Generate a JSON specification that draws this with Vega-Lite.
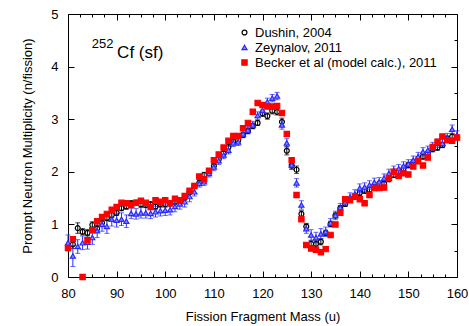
{
"$schema": "https://vega.github.io/schema/vega-lite/v6.json",
"width": 389, "height": 263,
"autosize": {"type": "none"},
"padding": {"left": 68, "top": 14, "right": 12, "bottom": 49},
"background": "white",
"config": {
 "view": {"stroke": "#000", "strokeWidth": 1},
 "font": "Liberation Sans",
 "axis": {"grid": false, "domain": false, "tickColor": "#000", "labelColor": "#000", "titleColor": "#000", "labelFontSize": 13, "titleFontSize": 13, "titleFontWeight": "normal", "labelFont": "Liberation Sans", "titleFont": "Liberation Sans"},
 "legend": {"labelFont": "Liberation Sans", "labelFontSize": 13, "labelColor": "#000", "labelLimit": 0}
},
"datasets": {
"pts": [
{"s":"Dushin, 2004","m":81,"v":0.62,"e":0.08},
{"s":"Dushin, 2004","m":82,"v":0.93,"e":0.1},
{"s":"Dushin, 2004","m":83,"v":0.86,"e":0.06},
{"s":"Dushin, 2004","m":84,"v":0.84,"e":0.06},
{"s":"Dushin, 2004","m":85,"v":0.99,"e":0.06},
{"s":"Dushin, 2004","m":86,"v":0.92,"e":0.06},
{"s":"Dushin, 2004","m":87,"v":1.03,"e":0.05},
{"s":"Dushin, 2004","m":88,"v":1.12,"e":0.05},
{"s":"Dushin, 2004","m":89,"v":1.18,"e":0.05},
{"s":"Dushin, 2004","m":90,"v":1.22,"e":0.05},
{"s":"Dushin, 2004","m":91,"v":1.31,"e":0.05},
{"s":"Dushin, 2004","m":92,"v":1.34,"e":0.05},
{"s":"Dushin, 2004","m":93,"v":1.40,"e":0.05},
{"s":"Dushin, 2004","m":94,"v":1.41,"e":0.05},
{"s":"Dushin, 2004","m":95,"v":1.38,"e":0.05},
{"s":"Dushin, 2004","m":96,"v":1.37,"e":0.05},
{"s":"Dushin, 2004","m":97,"v":1.38,"e":0.05},
{"s":"Dushin, 2004","m":98,"v":1.34,"e":0.05},
{"s":"Dushin, 2004","m":99,"v":1.38,"e":0.05},
{"s":"Dushin, 2004","m":100,"v":1.38,"e":0.05},
{"s":"Dushin, 2004","m":101,"v":1.40,"e":0.05},
{"s":"Dushin, 2004","m":102,"v":1.43,"e":0.05},
{"s":"Dushin, 2004","m":103,"v":1.45,"e":0.05},
{"s":"Dushin, 2004","m":104,"v":1.51,"e":0.05},
{"s":"Dushin, 2004","m":105,"v":1.62,"e":0.05},
{"s":"Dushin, 2004","m":106,"v":1.73,"e":0.05},
{"s":"Dushin, 2004","m":107,"v":1.79,"e":0.05},
{"s":"Dushin, 2004","m":108,"v":1.94,"e":0.05},
{"s":"Dushin, 2004","m":109,"v":2.00,"e":0.05},
{"s":"Dushin, 2004","m":110,"v":2.11,"e":0.05},
{"s":"Dushin, 2004","m":111,"v":2.24,"e":0.05},
{"s":"Dushin, 2004","m":112,"v":2.35,"e":0.05},
{"s":"Dushin, 2004","m":113,"v":2.47,"e":0.05},
{"s":"Dushin, 2004","m":114,"v":2.57,"e":0.05},
{"s":"Dushin, 2004","m":115,"v":2.60,"e":0.05},
{"s":"Dushin, 2004","m":116,"v":2.70,"e":0.05},
{"s":"Dushin, 2004","m":117,"v":2.78,"e":0.05},
{"s":"Dushin, 2004","m":118,"v":2.87,"e":0.05},
{"s":"Dushin, 2004","m":119,"v":2.93,"e":0.05},
{"s":"Dushin, 2004","m":120,"v":3.11,"e":0.06},
{"s":"Dushin, 2004","m":121,"v":3.06,"e":0.06},
{"s":"Dushin, 2004","m":122,"v":3.16,"e":0.06},
{"s":"Dushin, 2004","m":123,"v":3.14,"e":0.06},
{"s":"Dushin, 2004","m":124,"v":2.95,"e":0.07},
{"s":"Dushin, 2004","m":125,"v":2.40,"e":0.08},
{"s":"Dushin, 2004","m":126,"v":2.12,"e":0.07},
{"s":"Dushin, 2004","m":127,"v":2.04,"e":0.07},
{"s":"Dushin, 2004","m":128,"v":1.20,"e":0.06},
{"s":"Dushin, 2004","m":129,"v":0.96,"e":0.06},
{"s":"Dushin, 2004","m":130,"v":0.63,"e":0.06},
{"s":"Dushin, 2004","m":131,"v":0.63,"e":0.06},
{"s":"Dushin, 2004","m":132,"v":0.67,"e":0.06},
{"s":"Dushin, 2004","m":133,"v":0.84,"e":0.05},
{"s":"Dushin, 2004","m":134,"v":1.01,"e":0.05},
{"s":"Dushin, 2004","m":135,"v":1.17,"e":0.05},
{"s":"Dushin, 2004","m":136,"v":1.31,"e":0.05},
{"s":"Dushin, 2004","m":137,"v":1.39,"e":0.05},
{"s":"Dushin, 2004","m":138,"v":1.47,"e":0.05},
{"s":"Dushin, 2004","m":139,"v":1.53,"e":0.05},
{"s":"Dushin, 2004","m":140,"v":1.60,"e":0.05},
{"s":"Dushin, 2004","m":141,"v":1.64,"e":0.05},
{"s":"Dushin, 2004","m":142,"v":1.66,"e":0.05},
{"s":"Dushin, 2004","m":143,"v":1.72,"e":0.05},
{"s":"Dushin, 2004","m":144,"v":1.77,"e":0.05},
{"s":"Dushin, 2004","m":145,"v":1.78,"e":0.05},
{"s":"Dushin, 2004","m":146,"v":1.86,"e":0.05},
{"s":"Dushin, 2004","m":147,"v":1.94,"e":0.05},
{"s":"Dushin, 2004","m":148,"v":2.00,"e":0.05},
{"s":"Dushin, 2004","m":149,"v":2.06,"e":0.05},
{"s":"Dushin, 2004","m":150,"v":2.13,"e":0.05},
{"s":"Dushin, 2004","m":151,"v":2.18,"e":0.05},
{"s":"Dushin, 2004","m":152,"v":2.24,"e":0.05},
{"s":"Dushin, 2004","m":153,"v":2.29,"e":0.05},
{"s":"Dushin, 2004","m":154,"v":2.34,"e":0.05},
{"s":"Dushin, 2004","m":155,"v":2.43,"e":0.05},
{"s":"Dushin, 2004","m":156,"v":2.46,"e":0.05},
{"s":"Dushin, 2004","m":157,"v":2.51,"e":0.05},
{"s":"Dushin, 2004","m":158,"v":2.63,"e":0.05},
{"s":"Dushin, 2004","m":159,"v":2.67,"e":0.05},
{"s":"Zeynalov, 2011","m":80,"v":0.65,"e":0.15},
{"s":"Zeynalov, 2011","m":81,"v":0.40,"e":0.2},
{"s":"Zeynalov, 2011","m":82,"v":0.58,"e":0.13},
{"s":"Zeynalov, 2011","m":83,"v":0.65,"e":0.13},
{"s":"Zeynalov, 2011","m":84,"v":0.66,"e":0.13},
{"s":"Zeynalov, 2011","m":85,"v":0.75,"e":0.13},
{"s":"Zeynalov, 2011","m":86,"v":0.88,"e":0.13},
{"s":"Zeynalov, 2011","m":87,"v":1.00,"e":0.13},
{"s":"Zeynalov, 2011","m":88,"v":0.96,"e":0.13},
{"s":"Zeynalov, 2011","m":89,"v":1.10,"e":0.13},
{"s":"Zeynalov, 2011","m":90,"v":1.08,"e":0.13},
{"s":"Zeynalov, 2011","m":91,"v":1.10,"e":0.12},
{"s":"Zeynalov, 2011","m":92,"v":1.06,"e":0.12},
{"s":"Zeynalov, 2011","m":93,"v":1.21,"e":0.1},
{"s":"Zeynalov, 2011","m":94,"v":1.20,"e":0.1},
{"s":"Zeynalov, 2011","m":95,"v":1.22,"e":0.1},
{"s":"Zeynalov, 2011","m":96,"v":1.22,"e":0.1},
{"s":"Zeynalov, 2011","m":97,"v":1.21,"e":0.1},
{"s":"Zeynalov, 2011","m":98,"v":1.24,"e":0.1},
{"s":"Zeynalov, 2011","m":99,"v":1.26,"e":0.1},
{"s":"Zeynalov, 2011","m":100,"v":1.27,"e":0.1},
{"s":"Zeynalov, 2011","m":101,"v":1.28,"e":0.1},
{"s":"Zeynalov, 2011","m":102,"v":1.34,"e":0.1},
{"s":"Zeynalov, 2011","m":103,"v":1.39,"e":0.1},
{"s":"Zeynalov, 2011","m":104,"v":1.43,"e":0.1},
{"s":"Zeynalov, 2011","m":105,"v":1.53,"e":0.1},
{"s":"Zeynalov, 2011","m":106,"v":1.62,"e":0.08},
{"s":"Zeynalov, 2011","m":107,"v":1.78,"e":0.07},
{"s":"Zeynalov, 2011","m":108,"v":1.81,"e":0.07},
{"s":"Zeynalov, 2011","m":109,"v":1.97,"e":0.07},
{"s":"Zeynalov, 2011","m":110,"v":2.09,"e":0.07},
{"s":"Zeynalov, 2011","m":111,"v":2.21,"e":0.07},
{"s":"Zeynalov, 2011","m":112,"v":2.32,"e":0.07},
{"s":"Zeynalov, 2011","m":113,"v":2.41,"e":0.07},
{"s":"Zeynalov, 2011","m":114,"v":2.55,"e":0.07},
{"s":"Zeynalov, 2011","m":115,"v":2.57,"e":0.07},
{"s":"Zeynalov, 2011","m":116,"v":2.72,"e":0.07},
{"s":"Zeynalov, 2011","m":117,"v":2.79,"e":0.07},
{"s":"Zeynalov, 2011","m":118,"v":2.89,"e":0.07},
{"s":"Zeynalov, 2011","m":119,"v":3.07,"e":0.07},
{"s":"Zeynalov, 2011","m":120,"v":3.17,"e":0.07},
{"s":"Zeynalov, 2011","m":121,"v":3.33,"e":0.07},
{"s":"Zeynalov, 2011","m":122,"v":3.40,"e":0.07},
{"s":"Zeynalov, 2011","m":123,"v":3.44,"e":0.07},
{"s":"Zeynalov, 2011","m":124,"v":2.89,"e":0.08},
{"s":"Zeynalov, 2011","m":125,"v":2.55,"e":0.08},
{"s":"Zeynalov, 2011","m":126,"v":2.13,"e":0.08},
{"s":"Zeynalov, 2011","m":127,"v":1.79,"e":0.08},
{"s":"Zeynalov, 2011","m":128,"v":1.37,"e":0.08},
{"s":"Zeynalov, 2011","m":129,"v":0.92,"e":0.09},
{"s":"Zeynalov, 2011","m":130,"v":0.80,"e":0.1},
{"s":"Zeynalov, 2011","m":131,"v":0.75,"e":0.1},
{"s":"Zeynalov, 2011","m":132,"v":0.82,"e":0.1},
{"s":"Zeynalov, 2011","m":133,"v":0.86,"e":0.09},
{"s":"Zeynalov, 2011","m":134,"v":1.03,"e":0.08},
{"s":"Zeynalov, 2011","m":135,"v":1.17,"e":0.08},
{"s":"Zeynalov, 2011","m":136,"v":1.32,"e":0.08},
{"s":"Zeynalov, 2011","m":137,"v":1.43,"e":0.08},
{"s":"Zeynalov, 2011","m":138,"v":1.52,"e":0.08},
{"s":"Zeynalov, 2011","m":139,"v":1.58,"e":0.08},
{"s":"Zeynalov, 2011","m":140,"v":1.69,"e":0.08},
{"s":"Zeynalov, 2011","m":141,"v":1.71,"e":0.08},
{"s":"Zeynalov, 2011","m":142,"v":1.75,"e":0.08},
{"s":"Zeynalov, 2011","m":143,"v":1.80,"e":0.08},
{"s":"Zeynalov, 2011","m":144,"v":1.81,"e":0.08},
{"s":"Zeynalov, 2011","m":145,"v":1.88,"e":0.08},
{"s":"Zeynalov, 2011","m":146,"v":1.97,"e":0.08},
{"s":"Zeynalov, 2011","m":147,"v":2.03,"e":0.08},
{"s":"Zeynalov, 2011","m":148,"v":2.06,"e":0.08},
{"s":"Zeynalov, 2011","m":149,"v":2.11,"e":0.08},
{"s":"Zeynalov, 2011","m":150,"v":2.15,"e":0.08},
{"s":"Zeynalov, 2011","m":151,"v":2.22,"e":0.08},
{"s":"Zeynalov, 2011","m":152,"v":2.29,"e":0.08},
{"s":"Zeynalov, 2011","m":153,"v":2.38,"e":0.08},
{"s":"Zeynalov, 2011","m":154,"v":2.41,"e":0.08},
{"s":"Zeynalov, 2011","m":155,"v":2.48,"e":0.08},
{"s":"Zeynalov, 2011","m":156,"v":2.54,"e":0.08},
{"s":"Zeynalov, 2011","m":157,"v":2.54,"e":0.08},
{"s":"Zeynalov, 2011","m":158,"v":2.65,"e":0.08},
{"s":"Zeynalov, 2011","m":159,"v":2.81,"e":0.08},
{"s":"Zeynalov, 2011","m":160,"v":2.70,"e":0.08},
{"s":"Becker et al (model calc.), 2011","m":80,"v":0.55},
{"s":"Becker et al (model calc.), 2011","m":81,"v":0.72},
{"s":"Becker et al (model calc.), 2011","m":83,"v":0.0},
{"s":"Becker et al (model calc.), 2011","m":84,"v":0.70},
{"s":"Becker et al (model calc.), 2011","m":85,"v":0.89},
{"s":"Becker et al (model calc.), 2011","m":86,"v":1.06},
{"s":"Becker et al (model calc.), 2011","m":87,"v":1.14},
{"s":"Becker et al (model calc.), 2011","m":88,"v":1.20},
{"s":"Becker et al (model calc.), 2011","m":89,"v":1.28},
{"s":"Becker et al (model calc.), 2011","m":90,"v":1.33},
{"s":"Becker et al (model calc.), 2011","m":91,"v":1.41},
{"s":"Becker et al (model calc.), 2011","m":92,"v":1.40},
{"s":"Becker et al (model calc.), 2011","m":93,"v":1.37},
{"s":"Becker et al (model calc.), 2011","m":94,"v":1.41},
{"s":"Becker et al (model calc.), 2011","m":95,"v":1.45},
{"s":"Becker et al (model calc.), 2011","m":96,"v":1.41},
{"s":"Becker et al (model calc.), 2011","m":97,"v":1.33},
{"s":"Becker et al (model calc.), 2011","m":98,"v":1.46},
{"s":"Becker et al (model calc.), 2011","m":99,"v":1.43},
{"s":"Becker et al (model calc.), 2011","m":100,"v":1.46},
{"s":"Becker et al (model calc.), 2011","m":101,"v":1.40},
{"s":"Becker et al (model calc.), 2011","m":102,"v":1.49},
{"s":"Becker et al (model calc.), 2011","m":103,"v":1.46},
{"s":"Becker et al (model calc.), 2011","m":104,"v":1.54},
{"s":"Becker et al (model calc.), 2011","m":105,"v":1.64},
{"s":"Becker et al (model calc.), 2011","m":106,"v":1.73},
{"s":"Becker et al (model calc.), 2011","m":107,"v":1.91},
{"s":"Becker et al (model calc.), 2011","m":108,"v":1.86},
{"s":"Becker et al (model calc.), 2011","m":109,"v":2.02},
{"s":"Becker et al (model calc.), 2011","m":110,"v":2.22},
{"s":"Becker et al (model calc.), 2011","m":111,"v":2.33},
{"s":"Becker et al (model calc.), 2011","m":112,"v":2.46},
{"s":"Becker et al (model calc.), 2011","m":113,"v":2.59},
{"s":"Becker et al (model calc.), 2011","m":114,"v":2.68},
{"s":"Becker et al (model calc.), 2011","m":115,"v":2.68},
{"s":"Becker et al (model calc.), 2011","m":116,"v":2.83},
{"s":"Becker et al (model calc.), 2011","m":117,"v":2.93},
{"s":"Becker et al (model calc.), 2011","m":118,"v":3.14},
{"s":"Becker et al (model calc.), 2011","m":119,"v":3.31},
{"s":"Becker et al (model calc.), 2011","m":120,"v":3.27},
{"s":"Becker et al (model calc.), 2011","m":121,"v":3.24},
{"s":"Becker et al (model calc.), 2011","m":122,"v":3.24},
{"s":"Becker et al (model calc.), 2011","m":123,"v":3.25},
{"s":"Becker et al (model calc.), 2011","m":124,"v":3.12},
{"s":"Becker et al (model calc.), 2011","m":125,"v":2.72},
{"s":"Becker et al (model calc.), 2011","m":126,"v":2.22},
{"s":"Becker et al (model calc.), 2011","m":127,"v":1.56},
{"s":"Becker et al (model calc.), 2011","m":128,"v":1.10},
{"s":"Becker et al (model calc.), 2011","m":129,"v":0.61},
{"s":"Becker et al (model calc.), 2011","m":130,"v":0.54},
{"s":"Becker et al (model calc.), 2011","m":131,"v":0.52},
{"s":"Becker et al (model calc.), 2011","m":132,"v":0.47},
{"s":"Becker et al (model calc.), 2011","m":133,"v":0.53},
{"s":"Becker et al (model calc.), 2011","m":134,"v":0.80},
{"s":"Becker et al (model calc.), 2011","m":135,"v":1.00},
{"s":"Becker et al (model calc.), 2011","m":136,"v":1.22},
{"s":"Becker et al (model calc.), 2011","m":137,"v":1.48},
{"s":"Becker et al (model calc.), 2011","m":138,"v":1.46},
{"s":"Becker et al (model calc.), 2011","m":139,"v":1.53},
{"s":"Becker et al (model calc.), 2011","m":140,"v":1.48},
{"s":"Becker et al (model calc.), 2011","m":141,"v":1.40},
{"s":"Becker et al (model calc.), 2011","m":142,"v":1.56},
{"s":"Becker et al (model calc.), 2011","m":143,"v":1.69},
{"s":"Becker et al (model calc.), 2011","m":144,"v":1.69},
{"s":"Becker et al (model calc.), 2011","m":145,"v":1.70},
{"s":"Becker et al (model calc.), 2011","m":146,"v":1.88},
{"s":"Becker et al (model calc.), 2011","m":147,"v":2.00},
{"s":"Becker et al (model calc.), 2011","m":148,"v":1.92},
{"s":"Becker et al (model calc.), 2011","m":149,"v":1.97},
{"s":"Becker et al (model calc.), 2011","m":150,"v":1.95},
{"s":"Becker et al (model calc.), 2011","m":151,"v":2.10},
{"s":"Becker et al (model calc.), 2011","m":152,"v":2.20},
{"s":"Becker et al (model calc.), 2011","m":153,"v":2.12},
{"s":"Becker et al (model calc.), 2011","m":154,"v":2.27},
{"s":"Becker et al (model calc.), 2011","m":155,"v":2.47},
{"s":"Becker et al (model calc.), 2011","m":156,"v":2.57},
{"s":"Becker et al (model calc.), 2011","m":157,"v":2.67},
{"s":"Becker et al (model calc.), 2011","m":158,"v":2.60},
{"s":"Becker et al (model calc.), 2011","m":159,"v":2.59},
{"s":"Becker et al (model calc.), 2011","m":160,"v":2.65}
],
"sup": [{"x": 84.9, "y": 4.43, "t": "252"}],
"main": [{"x": 90.1, "y": 4.26, "t": "Cf (sf)"}]
},
"layer": [
 {"data": {"name": "pts"}, "transform": [{"filter": "datum.s === 'Dushin, 2004'"}],
  "mark": {"type": "errorbar", "ticks": true, "size": 5, "thickness": 1, "color": "#000"},
  "encoding": {
   "x": {"field": "m", "type": "quantitative", "scale": {"domain": [80, 160], "nice": false, "zero": false}, "axis": null},
   "y": {"field": "v", "type": "quantitative", "scale": {"domain": [0, 5], "nice": false}, "axis": null},
   "yError": {"field": "e"}}},
 {"data": {"name": "pts"}, "transform": [{"filter": "datum.s === 'Zeynalov, 2011'"}],
  "mark": {"type": "errorbar", "ticks": true, "size": 5, "thickness": 1, "color": "#2a2aff"},
  "encoding": {
   "x": {"field": "m", "type": "quantitative", "axis": null},
   "y": {"field": "v", "type": "quantitative", "axis": null},
   "yError": {"field": "e"}}},
 {"data": {"name": "pts"},
  "mark": {"type": "point", "strokeWidth": 1.2, "opacity": 1},
  "encoding": {
   "x": {"field": "m", "type": "quantitative",
    "axis": {"orient": "bottom", "title": "Fission Fragment Mass (u)", "values": [80,82.5,85,87.5,90,92.5,95,97.5,100,102.5,105,107.5,110,112.5,115,117.5,120,122.5,125,127.5,130,132.5,135,137.5,140,142.5,145,147.5,150,152.5,155,157.5,160],
     "format": "d", "labelExpr": "datum.value % 10 === 0 ? datum.label : ''",
     "tickSize": {"condition": {"test": "datum.value % 10 === 0", "value": -6}, "value": -3},
     "labelPadding": 16, "titlePadding": 7, "labelFlush": false, "labelOverlap": false}},
   "y": {"field": "v", "type": "quantitative",
    "axis": {"orient": "left", "title": "Prompt Neutron Multiplicity (n/fission)", "values": [0,0.5,1,1.5,2,2.5,3,3.5,4,4.5,5],
     "format": "d", "labelExpr": "datum.value % 1 === 0 ? datum.label : ''",
     "tickSize": {"condition": {"test": "datum.value % 1 === 0", "value": -6}, "value": -3},
     "labelPadding": 16, "titlePadding": 16, "labelOverlap": false}},
   "shape": {"field": "s", "type": "nominal", "scale": {"domain": ["Dushin, 2004", "Zeynalov, 2011", "Becker et al (model calc.), 2011"], "range": ["circle", "triangle-up", "square"]}, "legend": {"title": null, "orient": "none", "legendX": 170, "legendY": 12, "rowPadding": 1, "symbolStrokeWidth": 1.2}},
   "fill": {"field": "s", "type": "nominal", "scale": {"domain": ["Dushin, 2004", "Zeynalov, 2011", "Becker et al (model calc.), 2011"], "range": ["transparent", "#8a8aff", "#ff0000"]}, "legend": {"title": null, "orient": "none", "legendX": 170, "legendY": 12, "rowPadding": 1}},
   "stroke": {"field": "s", "type": "nominal", "scale": {"domain": ["Dushin, 2004", "Zeynalov, 2011", "Becker et al (model calc.), 2011"], "range": ["#000000", "#2a2aff", "#ff0000"]}, "legend": {"title": null, "orient": "none", "legendX": 170, "legendY": 12, "rowPadding": 1}},
   "size": {"field": "s", "type": "nominal", "scale": {"domain": ["Dushin, 2004", "Zeynalov, 2011", "Becker et al (model calc.), 2011"], "range": [24, 28, 34]}, "legend": {"title": null, "orient": "none", "legendX": 170, "legendY": 12, "rowPadding": 1}}
  }},
 {"data": {"name": "sup"}, "mark": {"type": "text", "align": "left", "baseline": "middle", "fontSize": 13, "font": "Liberation Sans", "color": "#000"},
  "encoding": {"x": {"field": "x", "type": "quantitative", "axis": null}, "y": {"field": "y", "type": "quantitative", "axis": null}, "text": {"field": "t"}}},
 {"data": {"name": "main"}, "mark": {"type": "text", "align": "left", "baseline": "middle", "fontSize": 17, "font": "Liberation Sans", "color": "#000"},
  "encoding": {"x": {"field": "x", "type": "quantitative", "axis": null}, "y": {"field": "y", "type": "quantitative", "axis": null}, "text": {"field": "t"}}},
 {"data": {"name": "sup"}, "mark": {"type": "point", "opacity": 0},
  "encoding": {
   "x": {"field": "x", "type": "quantitative", "axis": {"orient": "top", "title": null, "labels": false, "values": [80,82.5,85,87.5,90,92.5,95,97.5,100,102.5,105,107.5,110,112.5,115,117.5,120,122.5,125,127.5,130,132.5,135,137.5,140,142.5,145,147.5,150,152.5,155,157.5,160], "tickSize": {"condition": {"test": "datum.value % 10 === 0", "value": -6}, "value": -3}}},
   "y": {"field": "y", "type": "quantitative", "axis": {"orient": "right", "title": null, "labels": false, "values": [0,0.5,1,1.5,2,2.5,3,3.5,4,4.5,5], "tickSize": {"condition": {"test": "datum.value % 1 === 0", "value": -6}, "value": -3}}}}}
],
"resolve": {"axis": {"x": "independent", "y": "independent"}}
}
